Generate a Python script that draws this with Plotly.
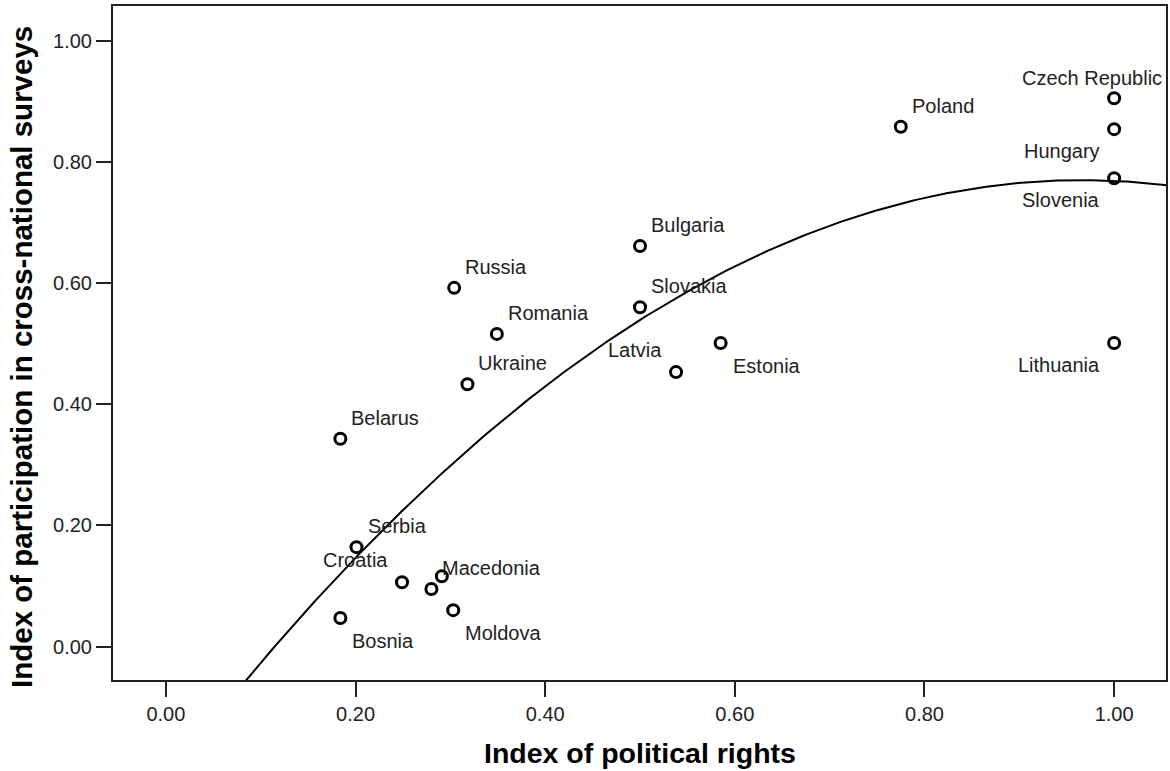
import numpy as np
import plotly.graph_objects as go

countries = ["Czech Republic", "Hungary", "Slovenia", "Lithuania", "Poland",
             "Bulgaria", "Slovakia", "Estonia", "Latvia", "Russia", "Romania",
             "Ukraine", "Belarus", "Serbia", "Croatia", "Macedonia", "",
             "Moldova", "Bosnia"]
political_rights = [1.00, 1.00, 1.00, 1.00, 0.775,
                    0.50, 0.50, 0.585, 0.538, 0.304, 0.349,
                    0.318, 0.184, 0.201, 0.249, 0.280, 0.291,
                    0.303, 0.184]
participation = [0.905, 0.854, 0.773, 0.501, 0.858,
                 0.661, 0.560, 0.501, 0.453, 0.592, 0.516,
                 0.433, 0.343, 0.164, 0.106, 0.095, 0.116,
                 0.060, 0.047]
label_side = ["cz", "bl", "bl", "bl", "tr",
              "tr", "tr", "br", "tl", "tr", "tr",
              "tr", "tr", "tr", "tl", "tr", "none",
              "br", "br"]

x_ticks = [0.0, 0.2, 0.4, 0.6, 0.8, 1.0]
y_ticks = [0.0, 0.2, 0.4, 0.6, 0.8, 1.0]
X_RANGE = [-0.0558, 1.0547]
Y_RANGE = [-0.0553, 1.0573]

FONT = "Liberation Sans, Arial, sans-serif"

# label placement style: (xshift px, yshift px, xanchor)
SIDE_STYLE = {
    "tr": (9, 21, "left"),
    "br": (10, -23, "left"),
    "tl": (-12, 22, "right"),
    "bl": (-12, -22, "right"),
    "cz": (50, 20, "right"),
}

# quadratic fit line
coef = np.polyfit(political_rights, participation, 2)
xs = np.linspace(X_RANGE[0], X_RANGE[1], 300)
ys = np.polyval(coef, xs)

fig = go.Figure()
fig.add_trace(go.Scatter(x=xs, y=ys, mode="lines",
                         line=dict(color="black", width=2),
                         hoverinfo="skip", showlegend=False))
fig.add_trace(go.Scatter(x=political_rights, y=participation, mode="markers",
                         marker=dict(symbol="circle-open", size=11,
                                     color="black", line=dict(width=3, color="black")),
                         text=countries, showlegend=False))

for name, xv, yv, side in zip(countries, political_rights, participation, label_side):
    if side == "none" or not name:
        continue
    dx, dy, anchor = SIDE_STYLE[side]
    fig.add_annotation(x=xv, y=yv, text=name, showarrow=False,
                       xanchor=anchor, yanchor="middle", xshift=dx, yshift=dy,
                       font=dict(family=FONT, size=20, color="#222222"))

fig.add_annotation(text="Index of political rights", xref="paper", yref="paper",
                   x=0.5, y=-0.108, xanchor="center", yanchor="middle",
                   showarrow=False,
                   font=dict(family=FONT, size=28.5, color="black", weight="bold"))
fig.add_annotation(text="Index of participation in cross-national surveys",
                   xref="paper", yref="paper", x=-0.0875, y=0.479,
                   xanchor="center", yanchor="middle", textangle=-90,
                   showarrow=False,
                   font=dict(family=FONT, size=29.5, color="black", weight="bold"))

axis_common = dict(showline=True, linecolor="#222222", linewidth=2, mirror=True,
                   ticks="outside", ticklen=15, tickwidth=2, tickcolor="#222222",
                   showgrid=False, zeroline=False,
                   tickfont=dict(family=FONT, size=20, color="#222222"))
fig.update_xaxes(range=X_RANGE, tickvals=x_ticks,
                 ticktext=[f"{v:.2f}" for v in x_ticks], **axis_common)
fig.update_yaxes(range=Y_RANGE, tickvals=y_ticks,
                 ticktext=[f"{v:.2f}" for v in y_ticks], **axis_common)

fig.update_layout(width=1170, height=771,
                  margin=dict(l=113, r=2, t=6, b=91),
                  plot_bgcolor="white", paper_bgcolor="white")

fig.write_html("out.html", config={"displayModeBar": False},
               post_script="document.body.style.margin='0';document.body.style.overflow='hidden';")
